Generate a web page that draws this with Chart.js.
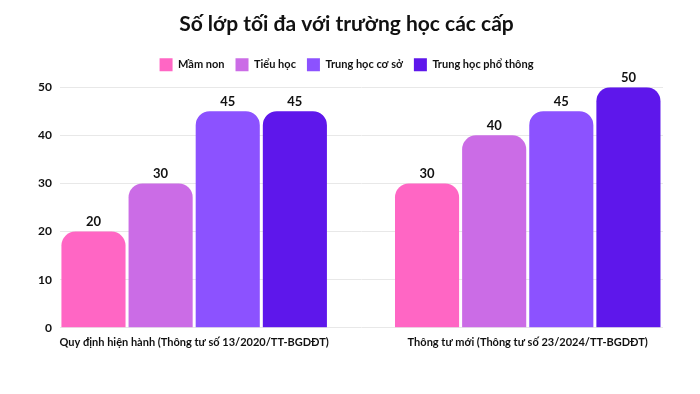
<!DOCTYPE html>
<html>
<head>
<meta charset="utf-8">
<script src="https://cdn.jsdelivr.net/npm/chart.js@4.4.1/dist/chart.umd.min.js"></script>
<style>
  html, body { margin: 0; padding: 0; background: #fff; }
  #wrap { width: 700px; height: 394px; position: relative; }
</style>
</head>
<body>
<div id="wrap"><canvas id="barChart"></canvas></div>
<script>
// chart data
var categories = ['Quy định hiện hành (Thông tư số 13/2020/TT-BGDĐT)', 'Thông tư mới (Thông tư số 23/2024/TT-BGDĐT)'];
var seriesNames = ['Mầm non', 'Tiểu học', 'Trung học cơ sở', 'Trung học phổ thông'];
var mamNon = [20, 30];
var tieuHoc = [30, 40];
var trungHocCoSo = [45, 45];
var trungHocPhoThong = [45, 50];
var yTicks = [0, 10, 20, 30, 40, 50];

var seriesValues = [mamNon, tieuHoc, trungHocCoSo, trungHocPhoThong];
var colors = ['#ff66c4', '#cb6ce6', '#8c52ff', '#5e17eb'];
var fontFamily = 'Lato, "Noto Sans", sans-serif';

Chart.defaults.font.family = fontFamily;
Chart.defaults.color = '#111';

// numbers drawn above each bar
var valueLabels = {
  id: 'valueLabels',
  afterDatasetsDraw: function (chart) {
    var ctx = chart.ctx;
    ctx.save();
    ctx.font = 'bold 13px ' + fontFamily;
    ctx.fillStyle = '#111';
    ctx.textAlign = 'center';
    ctx.textBaseline = 'bottom';
    chart.data.datasets.forEach(function (ds, di) {
      chart.getDatasetMeta(di).data.forEach(function (bar, i) {
        ctx.fillText(ds.data[i].y, bar.x, bar.y - 3);
      });
    });
    ctx.restore();
  }
};

// a bit more room under the legend
var legendGap = {
  id: 'legendGap',
  beforeInit: function (chart) {
    var fit = chart.legend.fit;
    chart.legend.fit = function () {
      fit.bind(chart.legend)();
      this.height += 6;
    };
  }
};

var datasets = seriesNames.map(function (name, s) {
  return {
    label: name,
    backgroundColor: colors[s],
    borderWidth: 0,
    borderRadius: { topLeft: 14, topRight: 14, bottomLeft: 0, bottomRight: 0 },
    borderSkipped: 'bottom',
    data: seriesValues[s].map(function (v, i) { return { x: i, y: v }; })
  };
});

new Chart(document.getElementById('barChart').getContext('2d'), {
  type: 'bar',
  data: { datasets: datasets },
  plugins: [valueLabels, legendGap],
  options: {
    responsive: true,
    maintainAspectRatio: false,
    animation: false,
    categoryPercentage: 0.805,
    barPercentage: 0.955,
    layout: { padding: { left: 30, right: 37, top: 0, bottom: 45 } },
    plugins: {
      title: {
        display: true,
        text: 'Số lớp tối đa với trường học các cấp',
        color: '#111',
        font: { size: 21, weight: 'bold' },
        padding: { top: 12, bottom: 10 }
      },
      legend: {
        labels: {
          boxWidth: 13,
          boxHeight: 13,
          padding: 11,
          color: '#111',
          font: { size: 11, weight: 'bold' }
        }
      },
      tooltip: { enabled: false }
    },
    scales: {
      x: {
        type: 'linear',
        offset: false,
        min: -0.4025,
        max: 1.4055,
        grid: { display: false },
        border: { display: false },
        afterBuildTicks: function (scale) {
          scale.ticks = categories.map(function (c, i) { return { value: i }; });
        },
        ticks: {
          autoSkip: false,
          maxRotation: 0,
          padding: 0,
          color: '#111',
          font: { size: 11, weight: 'bold' },
          callback: function (value, index) { return categories[index]; }
        }
      },
      y: {
        min: 0,
        max: 50,
        afterBuildTicks: function (scale) {
          scale.ticks = yTicks.map(function (v) { return { value: v }; });
        },
        grid: { color: '#e8e8e8', drawTicks: false },
        border: { display: false },
        ticks: {
          padding: 8,
          color: '#111',
          font: { size: 12, weight: 'bold' }
        }
      }
    }
  }
});
</script>
</body>
</html>
